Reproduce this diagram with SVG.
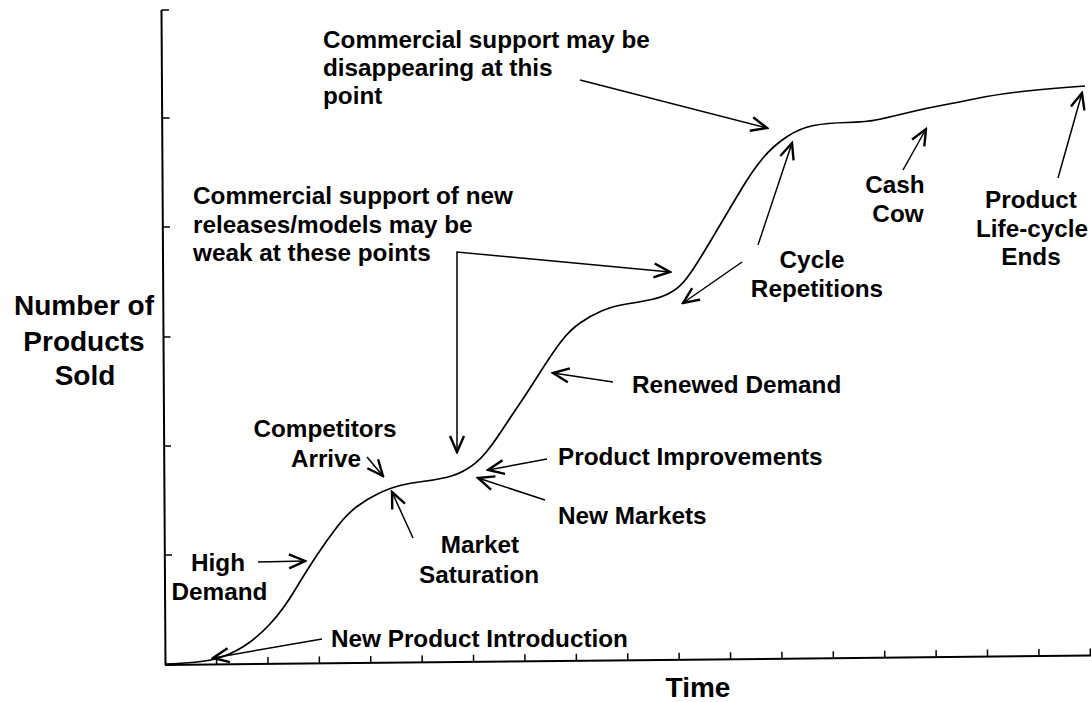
<svg xmlns="http://www.w3.org/2000/svg" width="1091" height="702" viewBox="0 0 1091 702">
<style>
.t{font-family:"Liberation Sans",Arial,Helvetica,sans-serif;font-weight:bold;font-size:24.3px;fill:#000}
.big{font-size:28px}
.c{text-anchor:middle}
.ax{stroke:#000;stroke-width:2;fill:none}
.tk{stroke:#000;stroke-width:1.5;fill:none}
.cv{stroke:#000;stroke-width:1.7;fill:none;stroke-linejoin:round}
.ar{stroke:#000;stroke-width:1.5;fill:none}
</style>
<defs>
<marker id="ah" markerUnits="userSpaceOnUse" markerWidth="20" markerHeight="18" viewBox="0 0 20 18" refX="18" refY="9" orient="auto-start-reverse">
<path d="M2,2 L18,9 L2,16" fill="none" stroke="#000" stroke-width="2.4" stroke-linejoin="miter"/>
</marker>
</defs>
<rect width="1091" height="702" fill="#fff"/>
<g id="axes">
<line class="ax" x1="161.5" y1="10" x2="165.5" y2="665"/>
<line class="tk" x1="161.5" y1="10" x2="169" y2="10"/>
<line class="tk" x1="162.2" y1="118" x2="169.5" y2="118"/>
<line class="tk" x1="162.8" y1="227" x2="170" y2="227"/>
<line class="tk" x1="163.5" y1="337" x2="170.5" y2="337"/>
<line class="tk" x1="164.2" y1="446" x2="171" y2="446"/>
<line class="tk" x1="164.8" y1="555" x2="172" y2="555"/>
<g transform="rotate(-0.585 165 665)">
<line class="ax" x1="165" y1="665" x2="1095" y2="665"/>
<path class="tk" d="M216.6,665v-7 M268,665v-7 M319.4,665v-7 M370.8,665v-7 M422.2,665v-7 M473.6,665v-7 M525,665v-7 M576.4,665v-7 M627.8,665v-7 M679.2,665v-7 M730.6,665v-7 M782,665v-7 M833.4,665v-7 M884.8,665v-7 M936.2,665v-7 M987.6,665v-7 M1039,665v-7 M1090.4,665v-7"/>
</g>
</g>
<g id="curve">
<path class="cv" d="M165,664 Q200,663 215,659 Q230,655 243.5,646.5 Q257,638 270,624 Q283,610 295,590 Q307,570 317,555 Q327,540 337,527 Q347,514 357,506.5 Q367,499 378.5,493.5 Q390,488 400,485.5 Q410,483 422.5,481.5 Q435,480 446,477.5 Q457,475 467,469 Q477,463 485,453.5 Q493,444 501.5,431 Q510,418 518.5,405.5 Q527,393 540,372.5 Q553,352 561.5,341 Q570,330 580,323 Q590,316 601.5,311 Q613,306 626.5,304 Q640,302 651.5,299.5 Q663,297 671.5,292 Q680,287 686.5,278.5 Q693,270 703,253.5 Q713,237 723,220 Q733,203 743,186.5 Q753,170 763,158 Q773,146 786.5,137 Q800,128 813.5,125.5 Q827,123 847,122.5 Q867,122 878.5,119.5 Q890,117 908.5,112.5 Q927,108 943.5,105 Q960,102 976.5,98.5 Q993,95 1018,92 Q1043,89 1085,86"/>
</g>
<g id="connectors">
<line class="ar" x1="580" y1="80" x2="767" y2="128" marker-end="url(#ah)"/>
<path class="ar" d="M457,452 L457,252 L670,272" marker-start="url(#ah)" marker-end="url(#ah)"/>
<line class="ar" x1="758" y1="245" x2="792" y2="143" marker-end="url(#ah)"/>
<line class="ar" x1="742" y1="262" x2="683" y2="303" marker-end="url(#ah)"/>
<line class="ar" x1="903" y1="170" x2="926" y2="129" marker-end="url(#ah)"/>
<line class="ar" x1="1058" y1="178" x2="1082" y2="93" marker-end="url(#ah)"/>
<line class="ar" x1="613" y1="382" x2="553" y2="373" marker-end="url(#ah)"/>
<line class="ar" x1="547" y1="459" x2="488" y2="470" marker-end="url(#ah)"/>
<line class="ar" x1="545" y1="500" x2="478" y2="478" marker-end="url(#ah)"/>
<line class="ar" x1="413" y1="538" x2="392" y2="492" marker-end="url(#ah)"/>
<line class="ar" x1="367" y1="457" x2="383" y2="476" marker-end="url(#ah)"/>
<line class="ar" x1="258" y1="562" x2="305" y2="561" marker-end="url(#ah)"/>
<line class="ar" x1="322" y1="639" x2="213" y2="658" marker-end="url(#ah)"/>
</g>
<g id="y-label"><text class="t big c" x="84" y="315">Number of</text><text class="t big c" x="84" y="350.5">Products</text><text class="t big c" x="85" y="385">Sold</text></g>
<g id="x-label"><text class="t big c" x="698" y="697">Time</text></g>
<g id="support-disappearing"><text class="t" x="323" y="48">Commercial support may be</text><text class="t" x="323" y="76">disappearing at this</text><text class="t" x="323" y="104">point</text></g>
<g id="support-weak"><text class="t" x="193" y="204">Commercial support of new</text><text class="t" x="193" y="233">releases/models may be</text><text class="t" x="193" y="261">weak at these points</text></g>
<g id="competitors"><text class="t c" x="325" y="437">Competitors</text><text class="t c" x="326" y="467">Arrive</text></g>
<g id="high-demand"><text class="t c" x="218" y="571">High</text><text class="t c" x="219.5" y="600">Demand</text></g>
<g id="market-saturation"><text class="t c" x="480" y="553">Market</text><text class="t c" x="479" y="583">Saturation</text></g>
<g id="new-product"><text class="t" x="331" y="647">New Product Introduction</text></g>
<g id="product-improvements"><text class="t" x="558" y="465">Product Improvements</text></g>
<g id="new-markets"><text class="t" x="558" y="524">New Markets</text></g>
<g id="renewed-demand"><text class="t" x="632" y="393">Renewed Demand</text></g>
<g id="cycle-repetitions"><text class="t c" x="812" y="268">Cycle</text><text class="t c" x="817" y="297">Repetitions</text></g>
<g id="cash-cow"><text class="t c" x="895" y="193">Cash</text><text class="t c" x="898" y="222">Cow</text></g>
<g id="plc-ends"><text class="t c" x="1031" y="208">Product</text><text class="t c" x="1032" y="237">Life-cycle</text><text class="t c" x="1031" y="265">Ends</text></g>
</svg>
